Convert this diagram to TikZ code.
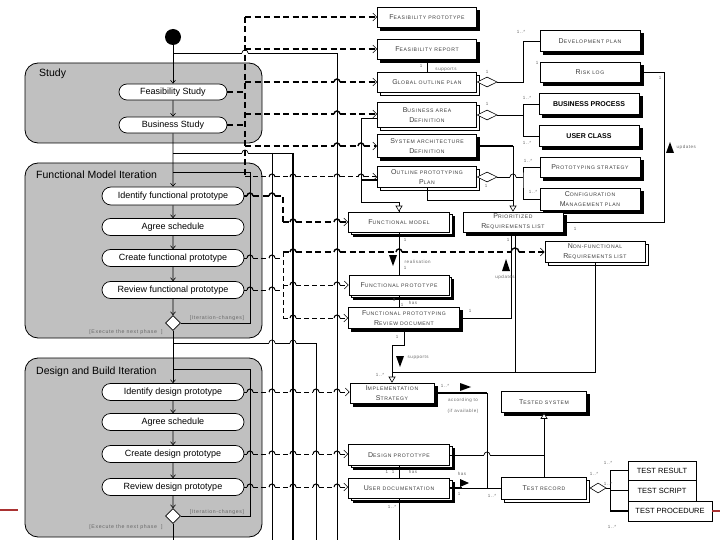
\documentclass[tikz,border=0pt]{standalone}
\usepackage{fontspec}
\setmainfont{Liberation Sans}
\newfontfamily\boxfont[LetterSpace=12]{Liberation Sans}
\usetikzlibrary{shapes.geometric,shapes.misc,shadows,arrows.meta}
\definecolor{regfill}{RGB}{192,192,192}
\definecolor{txtg}{RGB}{60,60,60}
\definecolor{redl}{RGB}{170,50,50}
\newcommand\SC[2]{{\fontsize{7}{10}\selectfont #1}{\fontsize{5.1}{10}\selectfont #2}}
\newcommand\hopat[3][line width=0.7pt]{\draw[#1] (#2-3,#3) arc[start angle=180,end angle=0,radius=3pt];}
\tikzset{
 obj/.style={draw, line width=0.6pt, fill=white, inner sep=0pt, align=center, text=txtg, font=\boxfont\fontsize{5.1}{10}\selectfont},
 shd/.style={general shadow={shadow xshift=3pt,shadow yshift=-3pt,fill=black,draw=black}},
 stk/.style={general shadow={shadow xshift=3pt,shadow yshift=-3pt,fill=white,draw=black,line width=0.6pt}},
 shdstk/.style={general shadow={shadow xshift=4.5pt,shadow yshift=-4pt,fill=black,draw=black}, general shadow={shadow xshift=2.5pt,shadow yshift=-2pt,fill=white,draw=black,line width=0.6pt}},
 capbox/.style={draw, line width=0.6pt, fill=white, inner sep=0pt, align=center, font=\fontsize{7.5}{9}\selectfont},
 act/.style={rounded rectangle, draw, line width=0.7pt, fill=white, inner sep=0pt, minimum width=142pt, minimum height=17pt, font=\fontsize{9}{10}\selectfont},
 region/.style={draw, line width=0.8pt, fill=regfill, rounded corners=13pt},
 flow/.style={line width=0.6pt, -{Straight Barb[length=3pt,width=5pt]}},
 conn/.style={line width=0.6pt},
 odash/.style={line width=1.4pt, dash pattern=on 6pt off 3.5pt},
 odashthin/.style={line width=1pt, dash pattern=on 5pt off 3pt},
 oarr/.style={-{Straight Barb[length=4pt,width=8pt,line width=0.6pt]}},
 gen/.style={-{Triangle[open,length=6pt,width=7pt,fill=white,line width=0.6pt]}},
 ml/.style={font=\boxfont\fontsize{4.5}{5}\selectfont, text=black!60, inner sep=0.5pt},
 guard/.style={font=\boxfont\fontsize{5.2}{6}\selectfont, text=black!60, inner sep=0.5pt},
 reglabel/.style={font=\fontsize{10.5}{12}\selectfont, anchor=west, inner sep=0pt},
 dmd/.style={diamond, draw, fill=white, line width=0.6pt, minimum width=15pt, minimum height=15pt, inner sep=0pt},
 agg/.style={diamond, draw, fill=white, line width=0.6pt, minimum width=20pt, minimum height=10pt, inner sep=0pt},
}
\begin{document}
\begin{tikzpicture}[x=1pt,y=-1pt]
\useasboundingbox (0,0) rectangle (720,540);
% ---------- regions
\draw[region] (25,63) rectangle (262,143);
\node[reglabel] (lstudy) at (39,74) {Study};
\draw[region] (25,163) rectangle (262,338);
\node[reglabel] (lfmi) at (36,175) {Functional Model Iteration};
\draw[region] (25,358) rectangle (262,537);
\node[reglabel] (ldbi) at (36,372) {Design and Build Iteration};

% ---------- solid lines from the main line
\coordinate (j1) at (173,53);
\coordinate (j2) at (173,153);
\coordinate (j3) at (173,343);
\draw[conn] (j1) -- (242,53) (248,53) -- (337,53) -- (337,540);
\hopat{245}{53}
\draw[conn] (j2) -- (242,153) (248,153) -- (293,153);
\hopat{245}{153}
\draw[conn] (272,153) -- (272,540);
\draw[line width=1.1pt] (293,153) -- (293,540);
\draw[conn] (j3) -- (269,343) (275,343) -- (290,343) (296,343) -- (316,343) -- (316,540);
\hopat{272}{343}\hopat{293}{343}

% ---------- activities
\node[circle, fill=black, minimum size=16pt, inner sep=0pt] (start) at (173,37) {};
\node[act, minimum width=108pt, minimum height=16pt] (fs) at (173,92) {Feasibility Study};
\node[act, minimum width=108pt, minimum height=16pt] (bs) at (173,125) {Business Study};
\node[act, minimum height=18pt] (ifp) at (173,196) {Identify functional prototype};
\node[act] (as1) at (173,227) {Agree schedule};
\node[act] (cfp) at (173,258) {Create functional prototype};
\node[act] (rfp) at (173,290) {Review functional prototype};
\node[dmd] (d1) at (173,323) {};
\node[act] (idp) at (173,392) {Identify design prototype};
\node[act] (as2) at (173,422) {Agree schedule};
\node[act] (cdp) at (173,454) {Create design prototype};
\node[act] (rdp) at (173,487) {Review design prototype};
\node[dmd] (d2) at (173,516) {};
\coordinate (bot) at (173,540);

\draw[flow] (start) -- (fs);
\draw[flow] (fs) -- (bs);
\draw[flow] (bs) -- (ifp);
\draw[flow] (ifp) -- (as1);
\draw[flow] (as1) -- (cfp);
\draw[flow] (cfp) -- (rfp);
\draw[flow] (rfp) -- (d1);
\draw[flow] (d1) -- (idp);
\draw[flow] (idp) -- (as2);
\draw[flow] (as2) -- (cdp);
\draw[flow] (cdp) -- (rdp);
\draw[flow] (rdp) -- (d2);
\draw[conn] (d2) -- (bot);
\draw[conn] (d1.east) -| (250,172) -- (173,172);
\draw[conn] (d2.east) -| (250,369) -- (173,369);

\node[guard] (g1) at (217,318) {[Iteration-changes]};
\node[guard] (g2) at (126,332) {[Execute the next phase\ \ ]};
\node[guard] (g3) at (217,512) {[Iteration-changes]};
\node[guard] (g4) at (126,527) {[Execute the next phase\ \ ]};

% ---------- objects
\node[obj, shd, minimum width=99pt, minimum height=20pt] (fp) at (427,17) {\SC{F}{EASIBILITY PROTOTYPE}};
\node[obj, shd, minimum width=99pt, minimum height=20pt] (fr) at (427,49) {\SC{F}{EASIBILITY REPORT}};
\node[obj, stk, minimum width=99pt, minimum height=20pt] (gop) at (427,82) {\SC{G}{LOBAL OUTLINE PLAN}};
\node[obj, stk, minimum width=99pt, minimum height=25pt] (bad) at (427,115) {\SC{B}{USINESS AREA}\\\SC{D}{EFINITION}};
\node[obj, shd, minimum width=99pt, minimum height=23pt] (sad) at (427,146) {\SC{S}{YSTEM ARCHITECTURE}\\\SC{D}{EFINITION}};
\node[obj, stk, minimum width=99pt, minimum height=21pt] (opp) at (427,177) {\SC{O}{UTLINE PROTOTYPING}\\\SC{P}{LAN}};
\node[obj, shd, minimum width=100pt, minimum height=21pt] (dev) at (590,41) {\SC{D}{EVELOPMENT PLAN}};
\node[obj, shd, minimum width=100pt, minimum height=20pt] (risk) at (590,72) {\SC{R}{ISK LOG}};
\node[capbox, shd, minimum width=100pt, minimum height=21pt, font=\bfseries\fontsize{7}{9}\selectfont] (bp) at (589,104) {BUSINESS PROCESS};
\node[capbox, shd, minimum width=100pt, minimum height=21pt, font=\bfseries\fontsize{7}{9}\selectfont] (uc) at (589,136) {USER CLASS};
\node[obj, shd, minimum width=100pt, minimum height=20pt] (ps) at (590,167) {\SC{P}{ROTOTYPING STRATEGY}};
\node[obj, shd, minimum width=100pt, minimum height=22pt] (cmp) at (590,199) {\SC{C}{ONFIGURATION}\\\SC{M}{ANAGEMENT PLAN}};
\node[obj, shdstk, minimum width=101pt, minimum height=20pt] (fm) at (399,222) {\SC{F}{UNCTIONAL MODEL}};
\node[obj, shd, minimum width=100pt, minimum height=20pt] (prl) at (513,222) {\SC{P}{RIORITIZED}\\\SC{R}{EQUIREMENTS LIST}};
\node[obj, stk, minimum width=100pt, minimum height=21pt] (nfrl) at (595,252) {\SC{N}{ON-FUNCTIONAL}\\\SC{R}{EQUIREMENTS LIST}};
\node[obj, shdstk, minimum width=100pt, minimum height=20pt] (fpt) at (399,285) {\SC{F}{UNCTIONAL PROTOTYPE}};
\node[obj, shd, minimum width=111pt, minimum height=21pt] (fprd) at (404,318) {\SC{F}{UNCTIONAL PROTOTYPING}\\\SC{R}{EVIEW DOCUMENT}};
\node[obj, shd, minimum width=84pt, minimum height=20pt] (is) at (392,393) {\SC{I}{MPLEMENTATION}\\\SC{S}{TRATEGY}};
\node[obj, shd, minimum width=85pt, minimum height=21pt] (ts) at (544,402) {\SC{T}{ESTED SYSTEM}};
\node[obj, shdstk, minimum width=101pt, minimum height=21pt] (dp) at (399,455) {\SC{D}{ESIGN PROTOTYPE}};
\node[obj, shdstk, minimum width=101pt, minimum height=20pt] (ud) at (399,488) {\SC{U}{SER DOCUMENTATION}};
\node[obj, stk, minimum width=85pt, minimum height=22pt] (tr) at (544,488) {\SC{T}{EST RECORD}};
\node[capbox, minimum width=68pt, minimum height=19pt] (tres) at (662,470.5) {TEST RESULT};
\node[capbox, minimum width=68pt, minimum height=21pt] (tscr) at (662,490.5) {TEST SCRIPT};
\node[capbox, minimum width=84pt, minimum height=20pt] (tproc) at (670,511) {TEST PROCEDURE};
\draw[redl, line width=1.5pt] (tproc.east) -- (720,511);
\coordinate (redstart) at (0,510);
\draw[redl, line width=1.5pt] (redstart) -- (18,510);

% ---------- object flows (dashed)
\draw[odash] (fs.east) -- (245,92);
\draw[odash] (bs.east) -- (245,125);
\draw[odash] (245,17) -- (245,177);
\draw[odash, oarr] (245,17) -- (fp.west);
\draw[odash, oarr] (245,49) -- (fr.west);
\draw[odash, oarr] (245,82) -- (334,82) (340,82) -- (gop.west);
\hopat[line width=1.4pt]{337}{82}
\draw[odash, oarr] (245,114) -- (334,114) (340,114) -- ([yshift=1pt]bad.west);
\hopat[line width=1.4pt]{337}{114}
\draw[odash, oarr] (245,146) -- (334,146) (340,146) -- (358,146) (364,146) -- (sad.west);
\hopat[line width=1.4pt]{337}{146}\hopat[line width=1.4pt]{361}{146}
\draw[odashthin, oarr] (245,177) -- (269,177) (275,177) -- (290,177) (296,177) -- (334,177) (340,177) -- (358,177) (364,177) -- (opp.west);
\hopat[line width=1pt]{272}{177}\hopat[line width=1pt]{293}{177}\hopat[line width=1pt]{337}{177}\hopat[line width=1pt]{361}{177}

\draw[odash] (ifp.east) -- (247,196) (253,196) -- (269,196) (275,196) -- (283,196) -- (283,222);
\hopat[line width=1.4pt]{250}{196}\hopat[line width=1.4pt]{272}{196}
\draw[odash, oarr] (283,222) -- (290,222) (296,222) -- (334,222) (340,222) -- (fm.west);
\hopat[line width=1.4pt]{293}{222}\hopat[line width=1.4pt]{337}{222}
\draw[odashthin] (cfp.east) -- (247,258) (253,258) -- (269,258) (275,258) -- (283,258);
\hopat[line width=1pt]{250}{258}\hopat[line width=1pt]{272}{258}
\draw[odashthin] (rfp.east) -- (247,290) (253,290) -- (269,290) (275,290) -- (283,290);
\hopat[line width=1pt]{250}{290}\hopat[line width=1pt]{272}{290}
\draw[odashthin] (283,252) -- (283,318);
\draw[odash, oarr] (283,252) -- (290,252) (296,252) -- (334,252) (340,252) -- (396,252) (402,252) -- (511,252) (519,252) -- (nfrl.west);
\hopat[line width=1.4pt]{293}{252}\hopat[line width=1.4pt]{337}{252}\hopat[line width=1.4pt]{399}{252}
\draw[line width=1.4pt] (511,252) arc[start angle=180,end angle=0,radius=4pt];
\draw[odashthin, oarr] (283,285) -- (290,285) (296,285) -- (334,285) (340,285) -- (fpt.west);
\hopat[line width=1pt]{293}{285}\hopat[line width=1pt]{337}{285}
\draw[odashthin, oarr] (283,318) -- (290,318) (296,318) -- (334,318) (340,318) -- (fprd.west);
\hopat[line width=1pt]{293}{318}\hopat[line width=1pt]{337}{318}

\draw[odashthin, oarr] (idp.east) -- (247,392) (253,392) -- (269,392) (275,392) -- (290,392) (296,392) -- (313,392) (319,392) -- (334,392) (340,392) -- (is.west |- idp.east);
\draw[odashthin, oarr] (cdp.east) -- (247,454) (253,454) -- (269,454) (275,454) -- (290,454) (296,454) -- (313,454) (319,454) -- (334,454) (340,454) -- (dp.west |- cdp.east);
\draw[odashthin, oarr] (rdp.east) -- (247,487) (253,487) -- (269,487) (275,487) -- (290,487) (296,487) -- (313,487) (319,487) -- (334,487) (340,487) -- (ud.west |- rdp.east);
\foreach \yy in {392,454,487}{\foreach \xx in {250,272,293,316,337}{\hopat[line width=1pt]{\xx}{\yy}}}

% ---------- associations
\draw[conn] (fr) -- (gop);
\node[ml] (m1) at (421,66) {1};
\node[ml] (m2) at (446,70) {supports};

\node[agg, anchor=west] (gopd) at (gop.east) {};
\draw[conn] (gopd.east) -| (523,41) -- (dev.west);
\node[ml] (m3) at (487,72) {1};
\node[ml] (m4) at (521,32) {1..*};
\node[ml] (m5) at (537,63) {1};

\node[agg, anchor=west] (badd) at (bad.east) {};
\draw[conn] (badd.east) -- (523,115);
\draw[conn] (bp.west) -| (523,136) -- (uc.west);
\node[ml] (m6) at (487,104) {1};
\node[ml] (m7) at (527,98) {1..*};
\node[ml] (m8) at (527,143) {1..*};

\draw[line width=1.3pt] (sad.east) -- (513,146);
\draw[conn, gen] (513,146) -- (prl.north);
\draw[conn] (opp.south) |- (513,200);

\node[agg, anchor=west] (oppd) at (opp.east) {};
\draw[conn] (oppd.east) -- (510,177) (516,177) -- (523,177);
\hopat{513}{177}
\draw[conn] (ps.west) -| (523,177) |- (cmp.west);
\node[ml] (m9) at (486,186) {1};
\node[ml] (m10) at (528,161) {1..*};
\node[ml] (m11) at (533,192) {1..*};

\draw[conn] (risk.east) -| (664,222) -- (prl.east);
\node[ml] (m12) at (660,78) {1};
\node[ml] (m13) at (575,229) {1};
\fill (666,153) -- (674,153) -- (670,142) -- cycle;
\node[ml, anchor=west] (m14) at (676,147) {updates};

\draw[conn] ([yshift=-3pt]bad.west) -| (361,202) -| (399,212);
\draw[conn, gen] (399,202) -- (fm.north);
\draw[line width=1.3pt] ([yshift=-3pt]opp.west) -- (361,180);

\draw[conn] (fm.south) -- (fpt.north);
\node[ml] (m15) at (405,240) {1};
\fill (389,255) -- (397,255) -- (393,266) -- cycle;
\node[ml, anchor=west] (m16) at (404,262) {realisation};
\node[ml] (m17) at (405,268) {1};

\draw[conn] ([xshift=-2pt]prl.south) |- (fprd.east);
\draw[conn] ([xshift=2pt]prl.south) -- (515,372);
\node[ml] (m18) at (508,240) {1};
\fill (502,271) -- (510,271) -- (506,259) -- cycle;
\node[ml] (m19) at (505,277) {updates};
\node[ml] (m20) at (470,311) {1};

\draw[conn] (fpt.south) -- (fpt.south |- fprd.north);
\node[ml] (m21) at (394,300) {1};
\node[ml] (m22) at (402,305) {1};
\node[ml] (m23) at (413,303) {has};

\coordinate (isj) at (392,345);
\draw[conn] (fprd.south) |- (isj);
\draw[conn] (nfrl.south) |- (392,372);
\draw[conn, gen] (isj) -- (is.north);
\node[ml] (m24) at (397,337) {1};
\fill (396,356) -- (404,356) -- (400,367) -- cycle;
\node[ml, anchor=west] (m25) at (407,358) {supports};
\node[ml] (m26) at (380,375) {1..*};

\draw[line width=1.3pt] (is.east) -- (487,393);
\draw[conn] (487,393) -- (487,488);
\node[ml] (m27) at (445,386) {1..*};
\fill (460,383) -- (460,391) -- (471,387) -- cycle;
\node[ml] (m28) at (463,400) {according to};
\node[ml] (m29) at (463,411) {(if available)};

\draw[conn] (dp.east) -- (484,455) (490,455) -- (544,455);
\hopat{487}{455}
\draw[conn, gen] (tr.north) -- (ts.south);
\draw[conn] (dp.south) -- (ud.north);
\node[ml] (m30) at (390,472) {1\ \ 1};
\node[ml] (m31) at (413,472) {has};

\draw[line width=1.3pt] (ud.east) -- (462,488);
\draw[conn] (462,488) -- (tr.west);
\fill (460,479) -- (460,487) -- (469,483) -- cycle;
\node[ml] (m32) at (462,474) {has};
\node[ml] (m33) at (459,494) {1};
\node[ml] (m34) at (492,496) {1..*};

\coordinate (udbot) at (399,540);
\draw[conn] (ud.south) -- (udbot);
\node[ml] (m35) at (392,507) {1..*};

\node[agg, anchor=west, minimum width=16pt] (trd) at ([xshift=3pt]tr.east) {};
\draw[conn] (trd.east) -- (610,488);
\draw[conn] (tres.west) -| (610,511) -- (tproc.west);
\draw[line width=1.3pt] (610,511) -- (tproc.west);
\draw[conn] (tscr.west) -- (610,490.5);
\node[ml] (m36) at (594,474) {1..*};
\node[ml] (m37) at (608,463) {1..*};
\node[ml] (m38) at (608,484) {1..*};
\node[ml] (m39) at (612,527) {1..*};
\end{tikzpicture}
\end{document}
